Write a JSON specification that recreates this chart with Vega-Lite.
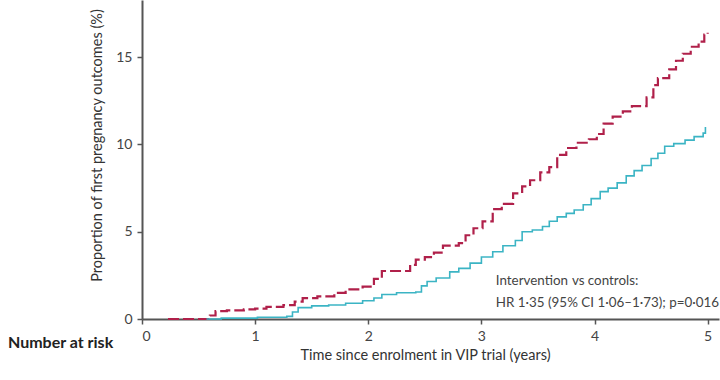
{
  "$schema": "https://vega.github.io/schema/vega-lite/v6.json",
  "width": 577,
  "height": 319,
  "autosize": "none",
  "padding": {"left": 142, "top": 0, "right": 1, "bottom": 61},
  "background": "white",
  "config": {
    "font": "Lato",
    "view": {"stroke": null},
    "axis": {
      "domainColor": "#555555",
      "domainWidth": 2,
      "tickColor": "#555555",
      "tickWidth": 1.5,
      "tickSize": 5,
      "labelFont": "Lato",
      "labelFontSize": 14,
      "labelColor": "#444444",
      "labelPadding": 5,
      "titleFont": "Lato",
      "titleFontSize": 14.5,
      "titleFontWeight": "normal",
      "titleColor": "#333333",
      "grid": false
    }
  },
  "title": {
    "text": "Number at risk",
    "orient": "bottom",
    "anchor": "start",
    "frame": "group",
    "dx": -134,
    "offset": -27,
    "fontSize": 16,
    "fontWeight": "bold",
    "font": "Lato",
    "color": "#222222"
  },
  "datasets": {
    "curves": [
      {"t": 0.23, "p": 0, "group": "Intervention"},
      {"t": 0.56, "p": 0, "group": "Intervention"},
      {"t": 0.6, "p": 0.2, "group": "Intervention"},
      {"t": 0.65, "p": 0.45, "group": "Intervention"},
      {"t": 0.75, "p": 0.5, "group": "Intervention"},
      {"t": 0.9, "p": 0.55, "group": "Intervention"},
      {"t": 1.0, "p": 0.6, "group": "Intervention"},
      {"t": 1.1, "p": 0.7, "group": "Intervention"},
      {"t": 1.25, "p": 0.8, "group": "Intervention"},
      {"t": 1.35, "p": 1.0, "group": "Intervention"},
      {"t": 1.42, "p": 1.2, "group": "Intervention"},
      {"t": 1.55, "p": 1.3, "group": "Intervention"},
      {"t": 1.7, "p": 1.5, "group": "Intervention"},
      {"t": 1.8, "p": 1.7, "group": "Intervention"},
      {"t": 1.95, "p": 1.85, "group": "Intervention"},
      {"t": 2.05, "p": 2.3, "group": "Intervention"},
      {"t": 2.12, "p": 2.75, "group": "Intervention"},
      {"t": 2.37, "p": 3.1, "group": "Intervention"},
      {"t": 2.42, "p": 3.4, "group": "Intervention"},
      {"t": 2.5, "p": 3.55, "group": "Intervention"},
      {"t": 2.58, "p": 3.8, "group": "Intervention"},
      {"t": 2.66, "p": 4.2, "group": "Intervention"},
      {"t": 2.8, "p": 4.35, "group": "Intervention"},
      {"t": 2.86, "p": 4.8, "group": "Intervention"},
      {"t": 2.93, "p": 5.2, "group": "Intervention"},
      {"t": 3.01, "p": 5.6, "group": "Intervention"},
      {"t": 3.1, "p": 6.3, "group": "Intervention"},
      {"t": 3.18, "p": 6.6, "group": "Intervention"},
      {"t": 3.28, "p": 7.2, "group": "Intervention"},
      {"t": 3.36, "p": 7.6, "group": "Intervention"},
      {"t": 3.43, "p": 7.95, "group": "Intervention"},
      {"t": 3.52, "p": 8.4, "group": "Intervention"},
      {"t": 3.6, "p": 8.7, "group": "Intervention"},
      {"t": 3.67, "p": 9.4, "group": "Intervention"},
      {"t": 3.75, "p": 9.8, "group": "Intervention"},
      {"t": 3.84, "p": 10.1, "group": "Intervention"},
      {"t": 3.95, "p": 10.3, "group": "Intervention"},
      {"t": 4.02, "p": 10.6, "group": "Intervention"},
      {"t": 4.08, "p": 11.2, "group": "Intervention"},
      {"t": 4.16, "p": 11.6, "group": "Intervention"},
      {"t": 4.25, "p": 11.9, "group": "Intervention"},
      {"t": 4.33, "p": 12.2, "group": "Intervention"},
      {"t": 4.46, "p": 12.7, "group": "Intervention"},
      {"t": 4.52, "p": 13.4, "group": "Intervention"},
      {"t": 4.56, "p": 13.8, "group": "Intervention"},
      {"t": 4.66, "p": 14.3, "group": "Intervention"},
      {"t": 4.72, "p": 14.8, "group": "Intervention"},
      {"t": 4.78, "p": 15.2, "group": "Intervention"},
      {"t": 4.85, "p": 15.6, "group": "Intervention"},
      {"t": 4.92, "p": 15.9, "group": "Intervention"},
      {"t": 4.97, "p": 16.3, "group": "Intervention"},
      {"t": 5.0, "p": 16.4, "group": "Intervention"},
      {"t": 0.57, "p": 0, "group": "Controls"},
      {"t": 0.7, "p": 0.05, "group": "Controls"},
      {"t": 1.02, "p": 0.1, "group": "Controls"},
      {"t": 1.28, "p": 0.15, "group": "Controls"},
      {"t": 1.33, "p": 0.4, "group": "Controls"},
      {"t": 1.38, "p": 0.65, "group": "Controls"},
      {"t": 1.5, "p": 0.75, "group": "Controls"},
      {"t": 1.65, "p": 0.8, "group": "Controls"},
      {"t": 1.8, "p": 0.9, "group": "Controls"},
      {"t": 1.95, "p": 1.05, "group": "Controls"},
      {"t": 2.05, "p": 1.2, "group": "Controls"},
      {"t": 2.12, "p": 1.4, "group": "Controls"},
      {"t": 2.25, "p": 1.5, "group": "Controls"},
      {"t": 2.42, "p": 1.55, "group": "Controls"},
      {"t": 2.47, "p": 1.9, "group": "Controls"},
      {"t": 2.52, "p": 2.15, "group": "Controls"},
      {"t": 2.6, "p": 2.35, "group": "Controls"},
      {"t": 2.72, "p": 2.7, "group": "Controls"},
      {"t": 2.8, "p": 2.9, "group": "Controls"},
      {"t": 2.9, "p": 3.2, "group": "Controls"},
      {"t": 3.0, "p": 3.55, "group": "Controls"},
      {"t": 3.1, "p": 3.85, "group": "Controls"},
      {"t": 3.19, "p": 4.2, "group": "Controls"},
      {"t": 3.3, "p": 4.5, "group": "Controls"},
      {"t": 3.36, "p": 5.0, "group": "Controls"},
      {"t": 3.45, "p": 5.1, "group": "Controls"},
      {"t": 3.54, "p": 5.3, "group": "Controls"},
      {"t": 3.6, "p": 5.6, "group": "Controls"},
      {"t": 3.67, "p": 5.85, "group": "Controls"},
      {"t": 3.75, "p": 6.05, "group": "Controls"},
      {"t": 3.82, "p": 6.25, "group": "Controls"},
      {"t": 3.9, "p": 6.55, "group": "Controls"},
      {"t": 3.97, "p": 6.9, "group": "Controls"},
      {"t": 4.05, "p": 7.3, "group": "Controls"},
      {"t": 4.12, "p": 7.5, "group": "Controls"},
      {"t": 4.2, "p": 7.8, "group": "Controls"},
      {"t": 4.28, "p": 8.2, "group": "Controls"},
      {"t": 4.35, "p": 8.5, "group": "Controls"},
      {"t": 4.42, "p": 8.8, "group": "Controls"},
      {"t": 4.5, "p": 9.2, "group": "Controls"},
      {"t": 4.56, "p": 9.5, "group": "Controls"},
      {"t": 4.62, "p": 9.9, "group": "Controls"},
      {"t": 4.7, "p": 10.05, "group": "Controls"},
      {"t": 4.8, "p": 10.25, "group": "Controls"},
      {"t": 4.88, "p": 10.45, "group": "Controls"},
      {"t": 4.96, "p": 10.65, "group": "Controls"},
      {"t": 4.98, "p": 11.0, "group": "Controls"}
    ],
    "notes": [
      {"t": 3.127, "p": 2.18, "label": "Intervention", "style": "normal"},
      {"t": 3.80, "p": 2.18, "label": "vs", "style": "italic"},
      {"t": 3.94, "p": 2.18, "label": "controls:", "style": "normal"},
      {"t": 3.127, "p": 0.92, "label": "HR 1·35 (95% CI 1·06–1·73); p=0·016", "style": "normal"}
    ]
  },
  "layer": [
    {
      "data": {"name": "curves"},
      "mark": {"type": "line", "interpolate": "step-after"},
      "encoding": {
        "x": {
          "field": "t", "type": "quantitative",
          "scale": {"domain": [0, 5.1], "nice": false},
          "axis": {"values": [0, 1, 2, 3, 4, 5], "format": "d", "title": "Time since enrolment in VIP trial (years)", "titleX": 283, "titleY": 36, "titleBaseline": "middle"}
        },
        "y": {
          "field": "p", "type": "quantitative",
          "scale": {"domain": [0, 18.28], "nice": false},
          "axis": {"values": [0, 5, 10, 15], "title": "Proportion of first pregnancy outcomes (%)", "titleX": -45, "titleY": 145, "titleBaseline": "middle", "titleAngle": -90}
        },
        "color": {
          "field": "group", "type": "nominal",
          "scale": {"domain": ["Intervention", "Controls"], "range": ["#b0204a", "#3bb4c4"]},
          "legend": null
        },
        "strokeDash": {
          "field": "group", "type": "nominal",
          "scale": {"domain": ["Intervention", "Controls"], "range": [[11, 4], [1, 0]]},
          "legend": null
        },
        "strokeWidth": {
          "field": "group", "type": "nominal",
          "scale": {"domain": ["Intervention", "Controls"], "range": [2.2, 1.6]},
          "legend": null
        }
      }
    },
    {
      "data": {"name": "notes"},
      "mark": {"type": "text", "align": "left", "baseline": "middle", "fontSize": 13.4, "color": "#444444", "font": "Lato"},
      "encoding": {
        "x": {"field": "t", "type": "quantitative"},
        "y": {"field": "p", "type": "quantitative"},
        "text": {"field": "label"},
        "fontStyle": {"field": "style", "type": "nominal", "scale": null}
      }
    }
  ]
}
